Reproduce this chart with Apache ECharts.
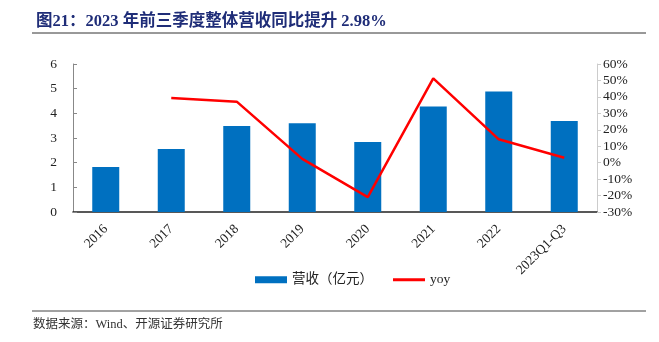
<!DOCTYPE html>
<html><head><meta charset="utf-8">
<script src="https://cdn.jsdelivr.net/npm/echarts@6/dist/echarts.min.js"></script>
<style>html,body{margin:0;padding:0;background:#fff}#c{width:659px;height:342px}</style>
</head><body><div id="c"></div>
<script>
const categories = ['2016','2017','2018','2019','2020','2021','2022','2023Q1-Q3'];
const revenue = [1.82, 2.55, 3.49, 3.60, 2.84, 4.28, 4.89, 3.69];
const yoy = [null, 39.3, 37.1, 2.3, -21.0, 51.3, 14.2, 2.98];
const leftTicks = {min: 0, max: 6, interval: 1};
const rightTicks = {min: -30, max: 60, interval: 10};

const serif = '"Liberation Serif", "Noto Sans CJK SC", serif';
const chart = echarts.init(document.getElementById('c'), null, {renderer: 'canvas'});
chart.setOption({
  animation: false,
  backgroundColor: '#fff',
  title: {
    text: '图21：2023 年前三季度整体营收同比提升 2.98%',
    left: 31, top: 8,
    textStyle: {fontFamily: serif, fontWeight: 'bold', fontSize: 16.5, color: '#1F2D78'}
  },
  graphic: [
    {type: 'line', shape: {x1: 32, y1: 33, x2: 646, y2: 33}, style: {stroke: '#333', lineWidth: 1}},
    {type: 'line', shape: {x1: 32, y1: 311, x2: 646, y2: 311}, style: {stroke: '#444', lineWidth: 1}},
    {type: 'text', left: 33, top: 318, style: {text: '数据来源：Wind、开源证券研究所', font: '12.5px ' + serif, fill: '#333'}}
  ],
  legend: [
    {top: 268, left: 250, itemWidth: 32, itemHeight: 7,
     textStyle: {fontFamily: serif, fontSize: 13.5, color: '#222'},
     data: [{name: '营收（亿元）', icon: 'rect'}]},
    {top: 268, left: 388, itemWidth: 32, itemHeight: 3, itemGap: 4,
     textStyle: {fontFamily: serif, fontSize: 13.5, color: '#222'},
     data: [{name: 'yoy', icon: 'rect'}]}
  ],
  grid: {left: 73, right: 62, top: 64, bottom: 130},
  xAxis: {
    type: 'category', data: categories,
    axisLine: {lineStyle: {color: '#222', width: 1.5}},
    axisTick: {inside: true, length: 4, lineStyle: {color: '#888'}},
    axisLabel: {rotate: 45, fontFamily: serif, fontSize: 13.5, color: '#222', margin: 15, interval: 0}
  },
  yAxis: [
    {type: 'value', ...leftTicks, position: 'left',
     axisLine: {show: true, lineStyle: {color: '#888'}},
     axisTick: {show: true, inside: true, length: 4, lineStyle: {color: '#888'}},
     splitLine: {show: false},
     axisLabel: {fontFamily: serif, fontSize: 13.5, color: '#222', margin: 16}},
    {type: 'value', ...rightTicks, position: 'right',
     axisLine: {show: true, lineStyle: {color: '#ccc'}},
     axisTick: {show: true, length: 4, lineStyle: {color: '#ccc'}},
     splitLine: {show: false},
     axisLabel: {fontFamily: serif, fontSize: 13.5, color: '#222', margin: 6, formatter: '{value}%'}}
  ],
  series: [
    {name: '营收（亿元）', type: 'bar', data: revenue, barWidth: 27, itemStyle: {color: '#0070C0'}},
    {name: 'yoy', type: 'line', yAxisIndex: 1, data: yoy, symbol: 'none', connectNulls: false,
     lineStyle: {color: '#FF0000', width: 2.5}, itemStyle: {color: '#FF0000'}}
  ]
});
</script></body></html>
